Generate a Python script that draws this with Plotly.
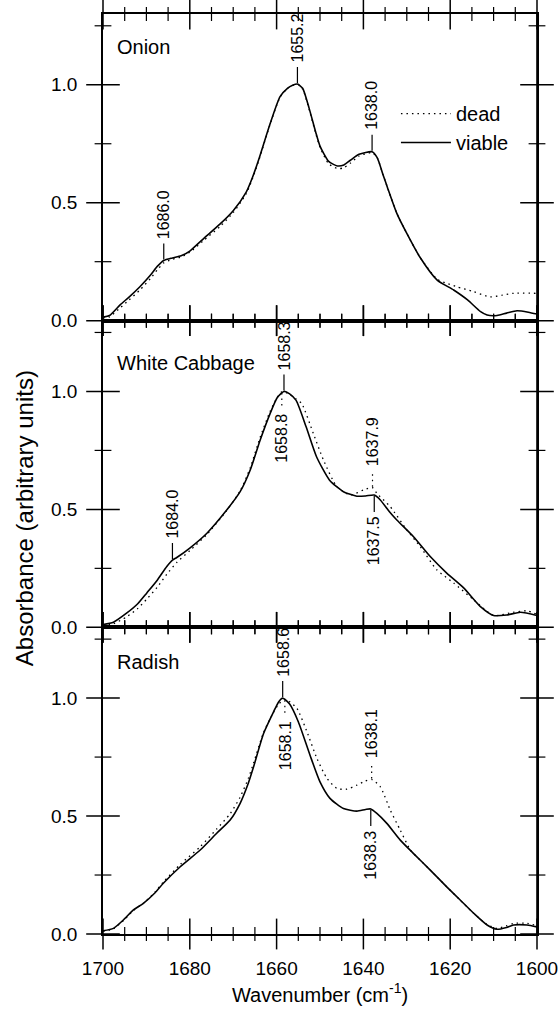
import numpy as np
import plotly.graph_objects as go

# ---------------- data (wavenumber in cm^-1, absorbance) ----------------
onion_viable_wn = [1700, 1698.5, 1696, 1694, 1691.5, 1689, 1687.5, 1686, 1684, 1682, 1680, 1677, 1673, 1670,
                   1667, 1665.5, 1664, 1661.5, 1659.2, 1657.5, 1656.3, 1655.2, 1654, 1652.5, 1651, 1650, 1648,
                   1646, 1644.5, 1643, 1641, 1638.0, 1636.8, 1635.5, 1634.5, 1632.3, 1630, 1627, 1623, 1619.2,
                   1616, 1613, 1611.5, 1609.2, 1607, 1604.6, 1602, 1600]
onion_viable_abs = [0.015, 0.022, 0.068, 0.10, 0.144, 0.195, 0.23, 0.255, 0.266, 0.275, 0.295, 0.345, 0.41, 0.466,
                    0.545, 0.61, 0.69, 0.835, 0.95, 0.985, 0.998, 1.003, 0.985, 0.90, 0.80, 0.74, 0.675,
                    0.656, 0.66, 0.68, 0.705, 0.716, 0.69, 0.62, 0.567, 0.455, 0.37, 0.27, 0.172, 0.13,
                    0.088, 0.038, 0.024, 0.022, 0.032, 0.042, 0.036, 0.028]
onion_dead_wn = [1700, 1698.5, 1696, 1694, 1691.5, 1689, 1687.5, 1686, 1684, 1682, 1680, 1677, 1673, 1670,
                 1667, 1665.5, 1664, 1661.5, 1659.2, 1657.5, 1656.3, 1655.2, 1654, 1652.5, 1651, 1650, 1648,
                 1646, 1644.5, 1643, 1641, 1638, 1636.8, 1635.5, 1634.5, 1632.3, 1630, 1627, 1623, 1621,
                 1618.5, 1614.6, 1610.8, 1608, 1605.4, 1600]
onion_dead_abs = [0.012, 0.016, 0.055, 0.088, 0.13, 0.18, 0.215, 0.245, 0.26, 0.27, 0.29, 0.337, 0.40, 0.458,
                  0.538, 0.605, 0.685, 0.832, 0.948, 0.985, 0.998, 1.003, 0.982, 0.895, 0.795, 0.735, 0.665,
                  0.645, 0.648, 0.668, 0.698, 0.712, 0.69, 0.62, 0.567, 0.455, 0.37, 0.27, 0.175, 0.16,
                  0.144, 0.123, 0.101, 0.108, 0.116, 0.116]

cabbage_viable_wn = [1700, 1697.6, 1694.5, 1692, 1689.9, 1687.5, 1685.3, 1684, 1683, 1680, 1676, 1671.5, 1668.4,
                     1666.1, 1663.8, 1661.5, 1659.8, 1658.3, 1657, 1655.5, 1653.2, 1650.8, 1647.8, 1644.6,
                     1641.5, 1639.5, 1637.5, 1636.1, 1634, 1632.3, 1628.5, 1624.6, 1620.8, 1616.9, 1613.1,
                     1610, 1607, 1603.8, 1600]
cabbage_viable_abs = [0.012, 0.022, 0.061, 0.10, 0.146, 0.20, 0.258, 0.285, 0.296, 0.336, 0.40, 0.497, 0.575,
                      0.666, 0.793, 0.906, 0.975, 1.0, 0.99, 0.962, 0.85, 0.723, 0.624, 0.575,
                      0.556, 0.557, 0.561, 0.54, 0.49, 0.455, 0.385, 0.30, 0.23, 0.167, 0.089,
                      0.05, 0.052, 0.064, 0.05]
cabbage_dead_wn = [1700, 1697.6, 1694.5, 1692, 1689.9, 1687.5, 1685.3, 1683, 1680, 1676, 1671.5, 1668.4, 1666.1,
                   1663.8, 1661.5, 1660, 1658.8, 1657.2, 1655.5, 1654.2, 1651.5, 1649.2, 1646.1, 1643, 1640,
                   1637.9, 1636.9, 1633.8, 1630, 1626.9, 1623.1, 1619.2, 1614.6, 1610, 1605.4, 1602.3, 1600]
cabbage_dead_abs = [0.01, 0.015, 0.045, 0.08, 0.12, 0.17, 0.225, 0.275, 0.325, 0.395, 0.495, 0.578, 0.675,
                    0.805, 0.915, 0.97, 0.998, 0.99, 0.968, 0.948, 0.82, 0.709, 0.596, 0.561, 0.582,
                    0.592, 0.568, 0.511, 0.413, 0.342, 0.244, 0.188, 0.117, 0.05, 0.064, 0.07, 0.055]

radish_viable_wn = [1700, 1697.6, 1695, 1693, 1690.7, 1688, 1686.1, 1682.2, 1677.6, 1673.8, 1670.7, 1668.4, 1666.5,
                    1665.3, 1663, 1660.7, 1659.5, 1658.6, 1657, 1655, 1652.3, 1650, 1647.7, 1644.6, 1641.5,
                    1639.5, 1638.3, 1636.9, 1634.6, 1631.5, 1628.5, 1624.6, 1620.8, 1617.7, 1614.6, 1611.5,
                    1609.2, 1607, 1605.4, 1602.3, 1600]
radish_viable_abs = [0.014, 0.024, 0.065, 0.102, 0.13, 0.175, 0.215, 0.285, 0.356, 0.427, 0.483, 0.554, 0.64,
                     0.709, 0.85, 0.942, 0.985, 1.0, 0.975, 0.90, 0.758, 0.645, 0.575, 0.532, 0.521,
                     0.528, 0.53, 0.511, 0.469, 0.398, 0.342, 0.271, 0.20, 0.144, 0.088, 0.038,
                     0.02, 0.028, 0.038, 0.038, 0.03]
radish_dead_wn = [1700, 1697.6, 1695, 1693, 1690.7, 1688, 1686.1, 1682.2, 1677.6, 1673.8, 1670.7, 1668.4, 1666.5,
                  1665.3, 1663, 1660.7, 1659.5, 1658.1, 1657, 1655.3, 1653, 1650.7, 1648.4, 1646.1, 1643.8,
                  1641.5, 1639.6, 1638.1, 1636.1, 1633.8, 1631.5, 1629.2, 1628.5, 1624.6, 1620.8, 1617.7,
                  1614.6, 1611.5, 1609.2, 1607, 1605.4, 1602.3, 1600]
radish_dead_abs = [0.012, 0.022, 0.062, 0.10, 0.13, 0.178, 0.22, 0.295, 0.37, 0.445, 0.51, 0.58, 0.66,
                   0.725, 0.855, 0.94, 0.975, 0.995, 0.985, 0.956, 0.857, 0.744, 0.66, 0.617, 0.614,
                   0.631, 0.648, 0.655, 0.624, 0.525, 0.44, 0.356, 0.342, 0.271, 0.20, 0.144,
                   0.088, 0.04, 0.024, 0.035, 0.045, 0.045, 0.035]

panel_names = ["Onion", "White Cabbage", "Radish"]

# peak markers: (panel index, wavenumber label, series, direction)
peak_panel = [0, 0, 0, 1, 1, 1, 1, 1, 2, 2, 2, 2]
peak_wn = [1686.0, 1655.2, 1638.0, 1684.0, 1658.3, 1658.8, 1637.9, 1637.5, 1658.6, 1658.1, 1638.1, 1638.3]
peak_series = ["viable", "viable", "viable", "viable", "viable", "dead", "dead", "viable",
               "viable", "dead", "dead", "viable"]
peak_dir = ["up", "up", "up", "up", "up", "down", "up", "down", "up", "down", "up", "down"]

# tick positions
x_major_ticks = [1700, 1680, 1660, 1640, 1620, 1600]
x_minor_ticks = [1695, 1690, 1685, 1675, 1670, 1665, 1655, 1650, 1645, 1635, 1630, 1625, 1615, 1610, 1605]
y_major_ticks = [0.0, 0.5, 1.0]
y_minor_ticks = [0.25, 0.75, 1.25]

# ---------------- figure ----------------
FONT = "Liberation Sans, Arial, Helvetica, sans-serif"
BLACK = "#000000"
DOT = "1.5px,4px"
XR = [1700, 1600]
YR = [0, 1.3]

series = [
    (onion_viable_wn, onion_viable_abs, onion_dead_wn, onion_dead_abs),
    (cabbage_viable_wn, cabbage_viable_abs, cabbage_dead_wn, cabbage_dead_abs),
    (radish_viable_wn, radish_viable_abs, radish_dead_wn, radish_dead_abs),
]

fig = go.Figure()
xref_names = ["x", "x2", "x3"]
yref_names = ["y", "y2", "y3"]

for i, (vw, va, dw, da) in enumerate(series):
    fig.add_trace(go.Scatter(x=dw, y=da, mode="lines", name="dead",
                             line=dict(color=BLACK, width=1.3, dash=DOT, shape="spline", smoothing=0.6),
                             showlegend=(i == 0), xaxis=xref_names[i], yaxis=yref_names[i]))
    fig.add_trace(go.Scatter(x=vw, y=va, mode="lines", name="viable",
                             line=dict(color=BLACK, width=1.6, shape="spline", smoothing=0.6),
                             showlegend=(i == 0), xaxis=xref_names[i], yaxis=yref_names[i]))

# tick marks and right-hand frame edge, drawn as unclipped markers / lines on each panel's scales
for i in range(3):
    xr, yr = xref_names[i], yref_names[i]
    for ticks, size, w in [(x_major_ticks, 22, 1.5), (x_minor_ticks, 10, 1.2)]:
        fig.add_trace(go.Scatter(
            x=ticks + ticks, y=[YR[0]] * len(ticks) + [YR[1]] * len(ticks), mode="markers",
            marker=dict(symbol="line-ns", size=size, color=BLACK, line=dict(color=BLACK, width=w)),
            cliponaxis=False, showlegend=False, hoverinfo="skip", xaxis=xr, yaxis=yr))
    for ticks, size, w in [(y_major_ticks, 24, 1.5), (y_minor_ticks, 12, 1.2)]:
        fig.add_trace(go.Scatter(
            x=[XR[0]] * len(ticks) + [XR[1]] * len(ticks), y=ticks + ticks, mode="markers",
            marker=dict(symbol="line-ew", size=size, color=BLACK, line=dict(color=BLACK, width=w)),
            cliponaxis=False, showlegend=False, hoverinfo="skip", xaxis=xr, yaxis=yr))
    fig.add_trace(go.Scatter(x=[XR[1], XR[1]], y=YR, mode="lines", line=dict(color=BLACK, width=1.6),
                             cliponaxis=False, showlegend=False, hoverinfo="skip", xaxis=xr, yaxis=yr))

domains = [[2 / 3, 1.0], [1 / 3, 2 / 3], [0.0, 1 / 3]]
TICKFONT = dict(family=FONT, size=19, color=BLACK)
AXLINE = dict(showline=True, linecolor=BLACK, linewidth=1.6)

layout = dict(
    template="none",
    width=559, height=1019,
    margin=dict(l=103, r=22, t=14, b=85),
    paper_bgcolor="white", plot_bgcolor="white",
    font=dict(family=FONT, color=BLACK),
    showlegend=True,
    legend=dict(x=0.675, y=0.913, xanchor="left", yanchor="top", bgcolor="rgba(0,0,0,0)",
                font=dict(family=FONT, size=20, color=BLACK), itemwidth=50, tracegroupgap=0),
)

for i in range(3):
    xkey = "xaxis" if i == 0 else f"xaxis{i + 1}"
    ykey = "yaxis" if i == 0 else f"yaxis{i + 1}"
    last = (i == 2)
    layout[xkey] = dict(
        AXLINE, mirror=True, range=XR, anchor=yref_names[i], tickmode="array", tickvals=x_major_ticks,
        ticks="", ticklabelstandoff=16, showgrid=False, zeroline=False, showticklabels=last,
        tickfont=TICKFONT,
        title=(dict(text="Wavenumber (cm<sup>-1</sup>)", standoff=10,
                    font=dict(family=FONT, size=20, color=BLACK)) if last else None),
    )
    layout[ykey] = dict(
        AXLINE, mirror=True, range=YR, domain=domains[i], anchor=xref_names[i], tickmode="array",
        tickvals=y_major_ticks, tickformat=".1f", ticks="", ticklabelstandoff=20,
        showgrid=False, zeroline=False, tickfont=TICKFONT,
    )

fig.update_layout(**layout)

# panel names
name_y = [0.892, 0.863, 0.886]
for i, nm in enumerate(panel_names):
    fig.add_annotation(text=nm, xref=f"{xref_names[i]} domain", yref=f"{yref_names[i]} domain",
                       x=0.028, y=name_y[i], xanchor="left", yanchor="middle", showarrow=False,
                       font=dict(family=FONT, size=20, color=BLACK))

# peak markers
LINE_LEN = 17
for p, wn, s, d in zip(peak_panel, peak_wn, peak_series, peak_dir):
    vw, va, dw, da = series[p]
    xs, ys = (vw, va) if s == "viable" else (dw, da)
    a = float(np.interp(wn, xs[::-1], ys[::-1]))
    sign = 1 if d == "up" else -1
    fig.add_shape(type="line", xref=xref_names[p], yref=yref_names[p], x0=wn, x1=wn,
                  ysizemode="pixel", yanchor=a, y0=sign * 1, y1=sign * LINE_LEN,
                  line=dict(color=BLACK, width=1.2, dash=("solid" if s == "viable" else DOT)))
    fig.add_annotation(text=f"{wn:.1f}", x=wn, y=a, xref=xref_names[p], yref=yref_names[p],
                       textangle=-90, showarrow=False, xanchor="center", yanchor="middle",
                       yshift=sign * (LINE_LEN + 4 + 25),
                       font=dict(family=FONT, size=16, color=BLACK))

# y-axis title
fig.add_annotation(text="Absorbance (arbitrary units)", xref="paper", yref="paper",
                   x=-0.182, y=0.452, textangle=-90, showarrow=False, xanchor="center", yanchor="middle",
                   font=dict(family=FONT, size=24, color=BLACK))

fig.write_html("out.html")
